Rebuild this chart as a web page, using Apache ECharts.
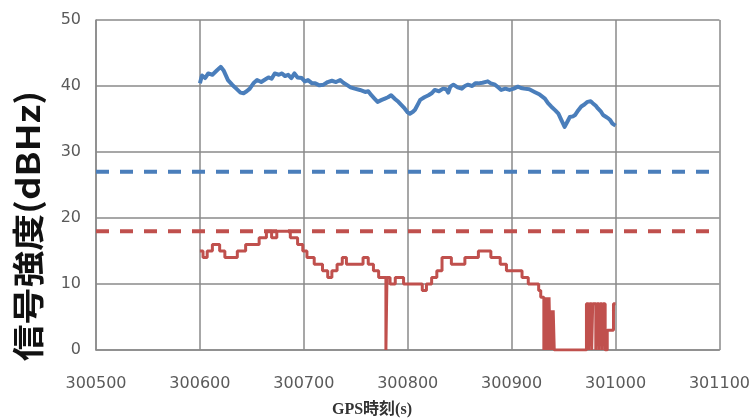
<!DOCTYPE html>
<html><head><meta charset="utf-8">
<script src="https://cdn.jsdelivr.net/npm/echarts@6/dist/echarts.min.js"></script>
<style>html,body{margin:0;padding:0;background:#fff}#c{width:753px;height:420px}</style>
</head><body><div id="c"></div>
<script>
var xTicks = [300500, 300600, 300700, 300800, 300900, 301000, 301100];
var yTicks = [0, 10, 20, 30, 40, 50];
var yTitle = '信号強度(dBHz)';
var xTitle = 'GPS時刻(s)';
var blueThreshold = 27;
var redThreshold = 18;
var blueTime = [300600,300602,300605,300608,300612,300616,300620,300623,300627,300631,300635,300639,300642,300645,300648,300652,300655,300659,300662,300666,300669,300672,300676,300679,300682,300685,300688,300691,300694,300698,300701,300704,300708,300711,300715,300719,300723,300727,300731,300735,300738,300741,300745,300749,300754,300759,300762,300765,300768,300771,300775,300778,300781,300784,300788,300791,300794,300797,300800,300802,300805,300807,300810,300812,300816,300820,300823,300826,300830,300834,300837,300839,300841,300844,300848,300852,300855,300858,300862,300865,300868,300872,300877,300880,300884,300887,300890,300894,300898,300902,300906,300909,300912,300917,300922,300927,300932,300935,300938,300942,300945,300948,300951,300954,300956,300959,300961,300964,300967,300970,300973,300976,300978,300981,300983,300986,300988,300991,300993,300995,300997,301000];
var blueCN0 = [40.4,41.6,41.2,41.9,41.7,42.3,42.9,42.3,40.9,40.2,39.6,39.0,38.9,39.2,39.6,40.5,40.9,40.6,40.9,41.3,41.1,41.9,41.7,41.9,41.5,41.7,41.2,41.9,41.3,41.2,40.7,40.9,40.4,40.4,40.1,40.2,40.6,40.8,40.6,40.9,40.5,40.2,39.8,39.6,39.4,39.1,39.2,38.6,38.1,37.6,37.9,38.1,38.3,38.6,38.0,37.6,37.1,36.6,36.0,35.8,36.1,36.4,37.3,37.9,38.3,38.6,38.9,39.4,39.2,39.6,39.5,39.0,39.9,40.2,39.8,39.6,40.0,40.2,40.0,40.4,40.4,40.5,40.7,40.4,40.2,39.8,39.4,39.6,39.4,39.6,39.9,39.7,39.6,39.5,39.1,38.7,38.1,37.4,36.9,36.3,35.8,34.8,33.8,34.7,35.3,35.4,35.6,36.3,36.9,37.2,37.6,37.7,37.4,37.0,36.6,36.1,35.6,35.3,35.1,34.8,34.3,34.0];
var redTime = [300600,300603,300607,300612,300619,300624,300636,300644,300657,300664,300669,300674,300687,300694,300699,300703,300710,300718,300723,300727,300732,300737,300741,300757,300762,300767,300772,300779,300780,300783,300788,300796,300814,300818,300823,300828,300833,300842,300855,300868,300880,300889,300895,300910,300916,300926,300928,300931,300932,300933,300934,300935,300936,300937,300938,300939,300940,300941,300972,300974,300975,300977,300978,300981,300982,300984,300985,300987,300988,300990,300992,300998,301000];
var redCN0 = [15,14,15,16,15,14,15,16,17,18,17,18,17,16,15,14,13,12,11,12,13,14,13,14,13,12,11,0,11,10,11,10,9,10,11,12,14,13,14,15,14,13,12,11,10,9,8,0,8,0,8,0,8,0,6,0,6,0,7,0,7,0,7,0,7,0,7,0,7,0,3,7,7];

function pairs(a, b) { return a.map(function (v, i) { return [v, b[i]]; }); }
var blueColor = '#4a7ebb', redColor = '#c0504d';
var chart = echarts.init(document.getElementById('c'), null, {renderer: 'canvas'});
chart.setOption({
  animation: false,
  backgroundColor: '#fff',
  grid: {left: 96, right: 33, top: 20, bottom: 70},
  xAxis: {
    type: 'value', min: xTicks[0], max: xTicks[xTicks.length - 1], interval: 100,
    axisLine: {show: true, lineStyle: {color: '#8a8a8a', width: 1.5}},
    axisTick: {show: false},
    splitLine: {show: true, lineStyle: {color: '#8a8a8a', width: 1.5}},
    axisLabel: {color: '#5a5a5a', fontSize: 16, fontFamily: 'DejaVu Sans', margin: 26,
                formatter: function (v) { return String(v); }}
  },
  yAxis: {
    type: 'value', min: yTicks[0], max: yTicks[yTicks.length - 1], interval: 10,
    axisLine: {show: true, lineStyle: {color: '#8a8a8a', width: 1.5}},
    axisTick: {show: false},
    splitLine: {show: true, lineStyle: {color: '#8a8a8a', width: 1.5}},
    axisLabel: {color: '#5a5a5a', fontSize: 16, fontFamily: 'DejaVu Sans', margin: 15}
  },
  graphic: [
    {type: 'text', x: 28, y: 226, rotation: Math.PI / 2, scaleX: 1.15,
     style: {text: yTitle, font: 'bold 32px "Noto Sans CJK JP"', fill: '#111', align: 'center', verticalAlign: 'middle'}},
    {type: 'text', x: 372, y: 410,
     style: {text: xTitle, font: 'bold 16px "Liberation Serif", "Noto Sans CJK JP"', fill: '#333', align: 'center', verticalAlign: 'middle'}}
  ],
  series: [
    {type: 'line', data: [[xTicks[0], blueThreshold], [xTicks[xTicks.length - 1], blueThreshold]], symbol: 'none', clip: false,
     lineStyle: {color: blueColor, width: 4, type: [13, 11]}, z: 3},
    {type: 'line', data: [[xTicks[0], redThreshold], [xTicks[xTicks.length - 1], redThreshold]], symbol: 'none', clip: false,
     lineStyle: {color: redColor, width: 4, type: [13, 11]}, z: 3},
    {type: 'line', data: pairs(blueTime, blueCN0), symbol: 'none',
     lineStyle: {color: blueColor, width: 4, join: 'round'}, z: 4},
    {type: 'line', data: pairs(redTime, redCN0), symbol: 'none', step: 'end',
     lineStyle: {color: redColor, width: 3}, z: 4}
  ]
});
</script></body></html>
